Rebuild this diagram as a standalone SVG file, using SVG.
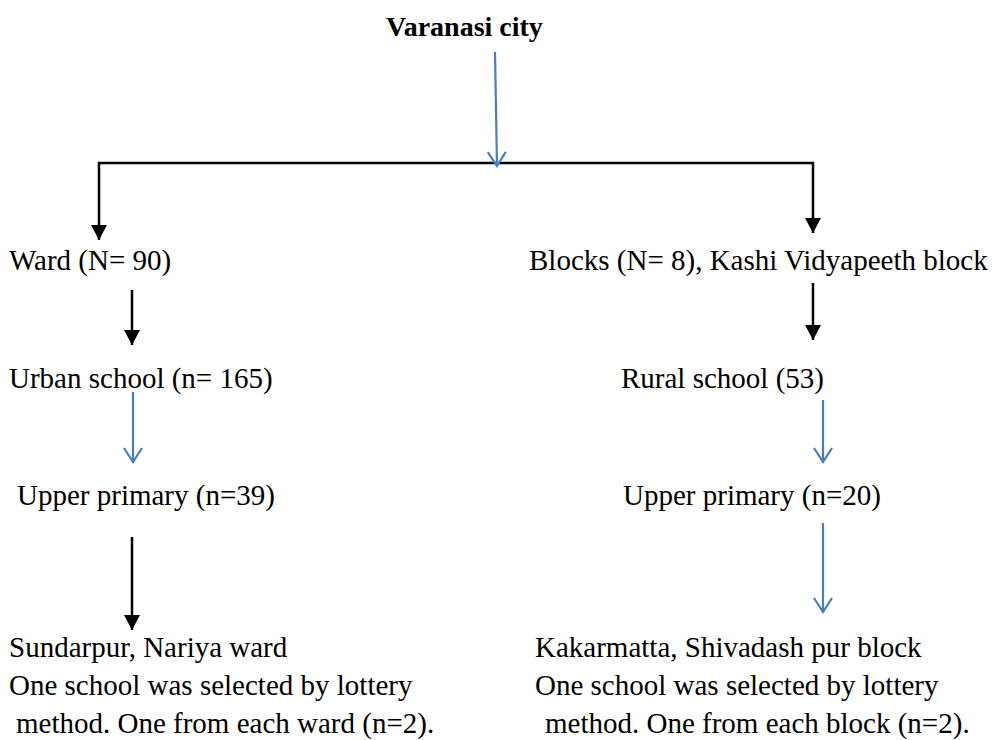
<svg xmlns="http://www.w3.org/2000/svg" width="995" height="740" viewBox="0 0 995 740">
<style>
.t{font-size:29px;fill:#000;}
.title{font-weight:bold;font-size:28px;}
.blk{stroke:#000;stroke-width:2.5;fill:none;}
.blu{stroke:#4a7ebb;stroke-width:2.2;fill:none;}
</style>
<defs>
<marker id="ab" markerUnits="userSpaceOnUse" viewBox="-16 -9 17 18" refX="0" refY="0" markerWidth="17" markerHeight="18" orient="auto-start-reverse" overflow="visible">
<path d="M-15,-8 L-15,8 L0,0 Z" fill="#000"/>
</marker>
<marker id="av" markerUnits="userSpaceOnUse" viewBox="-16 -10 17 20" refX="0" refY="0" markerWidth="17" markerHeight="20" orient="auto" overflow="visible">
<path d="M-14,-9 L0,0 L-14,9" fill="none" stroke="#4a7ebb" stroke-width="2.2"/>
</marker>
</defs>
<rect width="995" height="740" fill="#fff"/>
<g id="connectors">
<path class="blk" d="M99,240 V163 H813 V233" marker-end="url(#ab)" marker-start="url(#ab)"/>
<path class="blu" d="M495,52 L497,166" marker-end="url(#av)"/>
<path class="blk" d="M132,290 V345" marker-end="url(#ab)"/>
<path class="blu" d="M133,392 V462" marker-end="url(#av)"/>
<path class="blk" d="M813,283 V340" marker-end="url(#ab)"/>
<path class="blu" d="M823,400 V462" marker-end="url(#av)"/>
<path class="blk" d="M132,537 V630" marker-end="url(#ab)"/>
<path class="blu" d="M823,523 V612" marker-end="url(#av)"/>
</g>
<g font-family="Liberation Serif, DejaVu Serif, serif" class="t">
<g id="varanasi"><text class="t title" x="386" y="36">Varanasi city</text></g>
<g id="ward"><text class="t" x="9" y="270">Ward (N= 90)</text></g>
<g id="blocks"><text class="t" x="529" y="270">Blocks (N= 8), Kashi Vidyapeeth block</text></g>
<g id="urban"><text class="t" x="9" y="388">Urban school (n= 165)</text></g>
<g id="rural"><text class="t" x="621" y="388">Rural school (53)</text></g>
<g id="upper-left"><text class="t" x="17" y="505">Upper primary (n=39)</text></g>
<g id="upper-right"><text class="t" x="623" y="505">Upper primary (n=20)</text></g>
<g id="sel-left">
<text class="t" x="9" y="657">Sundarpur, Nariya ward</text>
<text class="t" x="9" y="695">One school was selected by lottery</text>
<text class="t" x="16" y="733">method. One from each ward (n=2).</text>
</g>
<g id="sel-right">
<text class="t" x="535" y="657">Kakarmatta, Shivadash pur block</text>
<text class="t" x="535" y="695">One school was selected by lottery</text>
<text class="t" x="545" y="733">method. One from each block (n=2).</text>
</g>
</g>
</svg>
